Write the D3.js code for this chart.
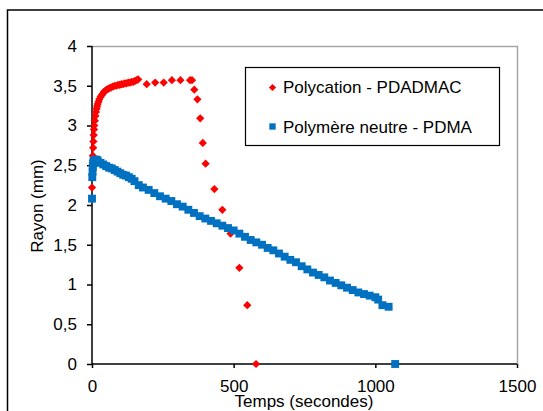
<!DOCTYPE html>
<html>
<head>
<meta charset="utf-8">
<script src="https://cdn.jsdelivr.net/npm/d3@7"></script>
<style>
  body { margin: 0; background: #fff; }
  text { font-family: "Liberation Sans", Arial, sans-serif; }
</style>
</head>
<body>
<svg id="chart" width="543" height="411"></svg>
<script>
// Polycation - PDADMAC (red diamonds)
var polyTime = [0, 1, 2, 3, 4, 5, 6, 7, 8, 10, 12, 14, 16, 18, 20, 23, 26, 30, 34, 38,
  42, 47, 52, 57, 62, 68, 74, 80, 86, 92, 98, 104, 110, 116, 122, 128, 134, 140, 146, 152,
  158, 163, 193, 223, 253, 282, 312, 346, 353, 361, 372, 382, 391, 401, 432, 460, 489, 520, 548, 579];
var polyRayon = [2.22, 2.38, 2.5, 2.62, 2.72, 2.8, 2.88, 2.95, 3.0, 3.06, 3.12, 3.17, 3.21, 3.24, 3.27, 3.3, 3.33, 3.36, 3.38, 3.4,
  3.42, 3.44, 3.45, 3.46, 3.47, 3.48, 3.49, 3.5, 3.5, 3.51, 3.51, 3.52, 3.52, 3.53, 3.53, 3.54, 3.54, 3.55, 3.55, 3.56,
  3.57, 3.58, 3.52, 3.54, 3.54, 3.57, 3.57, 3.57, 3.57, 3.45, 3.33, 3.09, 2.78, 2.52, 2.2, 1.94, 1.64, 1.21, 0.74, 0];

// Polymère neutre - PDMA (blue squares)
var neutreTime = [0, 1, 2, 3, 4, 5, 10, 15, 20, 30, 40, 50, 60, 70, 80, 90, 100, 110, 120, 130,
  140, 150, 165, 180, 200, 220, 240, 260, 280, 300, 320, 340, 360, 380, 400, 420, 440, 460, 480, 500,
  520, 540, 560, 580, 600, 620, 640, 660, 680, 700, 720, 740, 760, 780, 800, 820, 840, 860, 880, 900,
  920, 940, 960, 980, 1000, 1010, 1025, 1047, 1070];
var neutreRayon = [2.08, 2.35, 2.42, 2.48, 2.52, 2.55, 2.57, 2.57, 2.56, 2.53, 2.51, 2.49, 2.47, 2.46, 2.44, 2.42, 2.4, 2.38, 2.37, 2.35,
  2.33, 2.3, 2.25, 2.22, 2.19, 2.15, 2.11, 2.08, 2.05, 2.01, 1.98, 1.94, 1.9, 1.86, 1.83, 1.8, 1.77, 1.74, 1.71, 1.68,
  1.64, 1.6, 1.56, 1.53, 1.5, 1.46, 1.43, 1.39, 1.35, 1.31, 1.28, 1.23, 1.19, 1.15, 1.12, 1.09, 1.05, 1.02, 0.99, 0.96,
  0.93, 0.9, 0.88, 0.86, 0.84, 0.81, 0.74, 0.72, 0];

var xTicks = [0, 500, 1000, 1500];
var yTicks = [0, 0.5, 1, 1.5, 2, 2.5, 3, 3.5, 4];
var seriesNames = ["Polycation - PDADMAC", "Polymère neutre - PDMA"];

var margin = { top: 46, right: 26, bottom: 47, left: 92 };
var svgWidth = 543, svgHeight = 411;
var width = svgWidth - margin.left - margin.right;
var height = svgHeight - margin.top - margin.bottom;

var svg = d3.select("#chart");

// outer frame
svg.append("rect")
  .attr("x", 7.5).attr("y", 10)
  .attr("width", 600).attr("height", 500)
  .attr("fill", "none")
  .attr("stroke", "#000")
  .attr("stroke-width", 1.5);

var g = svg.append("g")
  .attr("transform", "translate(" + margin.left + "," + margin.top + ")");

var x = d3.scaleLinear().domain([0, 1500]).range([0, width]);
var y = d3.scaleLinear().domain([0, 4]).range([height, 0]);

var fmt = function(d) { return String(d).replace(".", ","); };

// gray top and right frame of plot area
g.append("path")
  .attr("d", "M0,0.5H" + (width + 0.5) + "V" + height)
  .attr("fill", "none")
  .attr("stroke", "#a6a6a6")
  .attr("stroke-width", 1.5);

var xAxis = g.append("g")
  .attr("transform", "translate(0," + height + ")")
  .call(d3.axisBottom(x).tickValues(xTicks).tickFormat(fmt).tickSize(4).tickPadding(12));
var yAxis = g.append("g")
  .call(d3.axisLeft(y).tickValues(yTicks).tickFormat(fmt).tickSize(5).tickPadding(10));

[xAxis, yAxis].forEach(function(a) {
  a.selectAll("path, line").attr("stroke", "#000").attr("stroke-width", 1.5);
  a.selectAll("text").attr("font-size", "17px").attr("fill", "#000")
    .attr("font-family", "'Liberation Sans', Arial, sans-serif");
});
xAxis.select(".domain").attr("d", "M0,0H" + width);
yAxis.select(".domain").attr("d", "M0,0V" + height);

var polyData = polyTime.map(function(t, i) { return { t: t, v: polyRayon[i] }; });
var neutreData = neutreTime.map(function(t, i) { return { t: t, v: neutreRayon[i] }; });

var diamond = d3.symbol().type(d3.symbolSquare).size(34);
var square = d3.symbol().type(d3.symbolSquare).size(62);

g.selectAll(".poly")
  .data(polyData)
  .enter().append("path")
  .attr("class", "poly")
  .attr("d", diamond)
  .attr("fill", "#ff0000")
  .attr("transform", function(d) { return "translate(" + x(d.t) + "," + y(d.v) + ") rotate(45)"; });

g.selectAll(".neutre")
  .data(neutreData)
  .enter().append("path")
  .attr("class", "neutre")
  .attr("d", square)
  .attr("fill", "#0070c0")
  .attr("transform", function(d) { return "translate(" + x(d.t) + "," + y(d.v) + ")"; });

// axis titles
svg.append("text")
  .attr("x", 304).attr("y", 407)
  .attr("text-anchor", "middle")
  .attr("font-size", "17px")
  .text("Temps (secondes)");

svg.append("text")
  .attr("transform", "translate(43,206) rotate(-90)")
  .attr("text-anchor", "middle")
  .attr("font-size", "17px")
  .text("Rayon (mm)");

// legend
var legend = svg.append("g");
legend.append("rect")
  .attr("x", 245.5).attr("y", 67.5)
  .attr("width", 254).attr("height", 78)
  .attr("fill", "#fff")
  .attr("stroke", "#000")
  .attr("stroke-width", 1.2);

legend.append("path")
  .attr("d", d3.symbol().type(d3.symbolSquare).size(26))
  .attr("fill", "#ff0000")
  .attr("transform", "translate(272.5,87.5) rotate(45)");
legend.append("path")
  .attr("d", d3.symbol().type(d3.symbolSquare).size(40))
  .attr("fill", "#0070c0")
  .attr("transform", "translate(272.5,126.5)");

legend.selectAll(".lbl")
  .data(seriesNames)
  .enter().append("text")
  .attr("class", "lbl")
  .attr("x", 283)
  .attr("y", function(d, i) { return 93 + i * 40; })
  .attr("font-size", "17px")
  .text(function(d) { return d; });
</script>
</body>
</html>
